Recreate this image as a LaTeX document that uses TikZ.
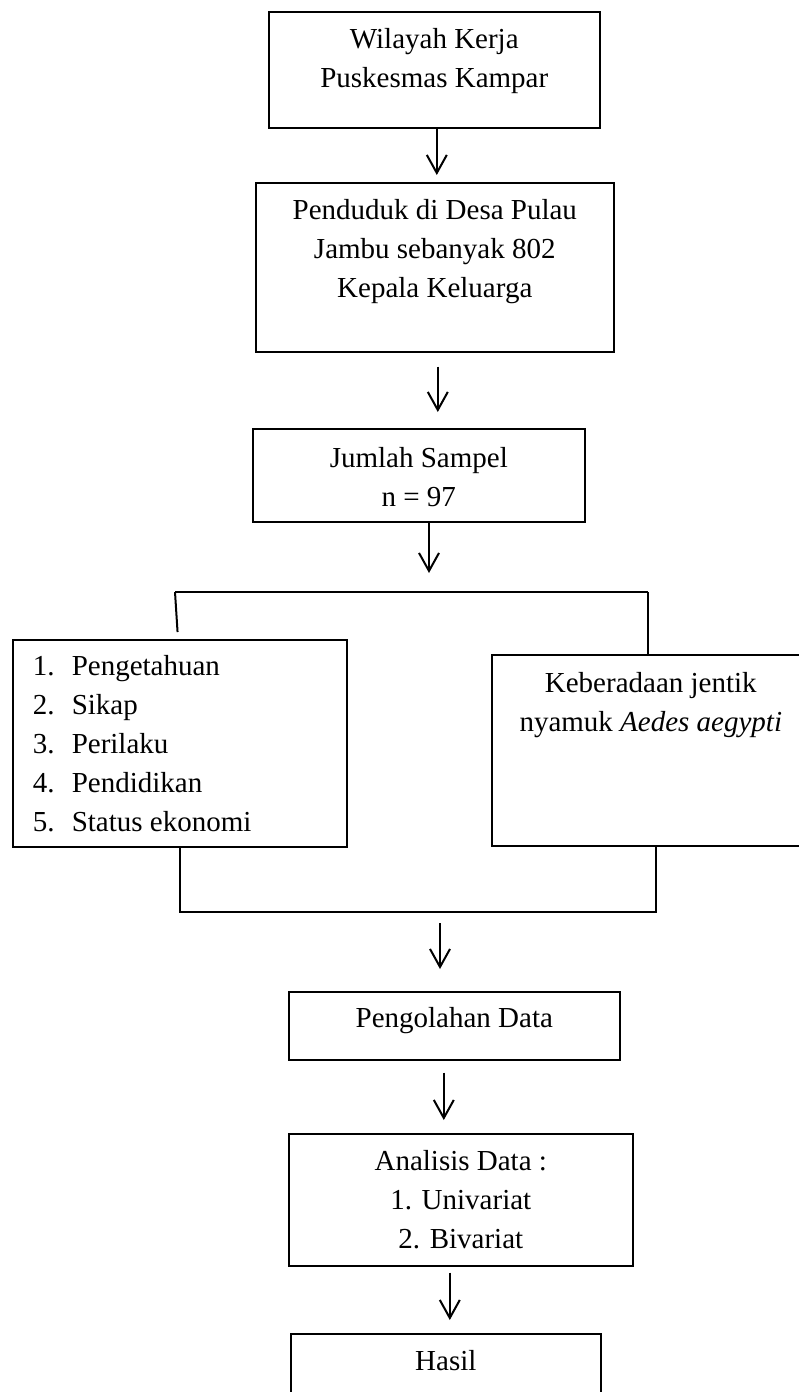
\documentclass[tikz,border=0pt]{standalone}
\usepackage{fontspec}
\setmainfont{Liberation Serif}
\usetikzlibrary{arrows.meta,positioning}
\newlength{\pxu}
\setlength{\pxu}{0.5pt}
% box text: width, height, first baseline, text
\newcommand{\boxtext}[4]{\parbox[c][#2\pxu][t]{#1\pxu}{\centering\rule{0pt}{#3\pxu}#4}}
\newcommand{\nomor}[1]{\hspace*{20\pxu}\makebox[39\pxu][l]{#1}}

\begin{document}
\begin{tikzpicture}[x=0.5pt,y=-0.5pt,
  every node/.style={font=\fontsize{14.5}{19.4}\selectfont},
  flowbox/.style={draw,line width=0.8pt,inner sep=0pt,anchor=north west},
  flowarrow/.style={-{Straight Barb[length=9pt,width=10pt]},line width=1pt},
  joinline/.style={line width=1pt}]
\useasboundingbox (0,0) rectangle (798,1392);
%
\node (wilayah) [flowbox] at (268,11) {\boxtext{331}{116}{37}{Wilayah Kerja\\Puskesmas Kampar}};
\node (penduduk) [flowbox] at (255,182) {\boxtext{358}{169}{37}{Penduduk di Desa Pulau\\Jambu sebanyak 802\\Kepala Keluarga}};
\node (sampel) [flowbox] at (252,428) {\boxtext{332}{93}{39}{Jumlah Sampel\\n = 97}};
\node (faktor) [flowbox] at (12,639) {\parbox[c][207\pxu][t]{334\pxu}{\raggedright\rule{0pt}{36\pxu}%
  \nomor{1.}Pengetahuan\\
  \nomor{2.}Sikap\\
  \nomor{3.}Perilaku\\
  \nomor{4.}Pendidikan\\
  \nomor{5.}Status ekonomi}};
\node (jentik) [flowbox] at (491,654) {\boxtext{318}{191}{38}{Keberadaan jentik\\nyamuk \textit{Aedes aegypti}}};
\node (olah) [flowbox] at (288,991) {\boxtext{331}{68}{36}{Pengolahan Data}};
\node (analisis) [flowbox] at (288,1133) {\boxtext{344}{132}{37}{Analisis Data :\\1. Univariat\\2. Bivariat}};
\node (hasil) [flowbox] at (290,1333) {\boxtext{310}{100}{37}{Hasil}};
%
\coordinate (splitL) at (175,592);
\coordinate (splitM) at (429,592);
\coordinate (splitR) at (648,592);
\coordinate (joinL) at (180,912);
\coordinate (joinM) at (440,912);
\coordinate (joinR) at (656,912);
%
\path[flowarrow,shorten >=3.5pt] ([xshift=1.25pt]wilayah.south) edge ([xshift=1.25pt]wilayah.south |- penduduk.north);
\path[flowarrow,shorten <=7pt,shorten >=8pt] ([xshift=1.5pt]penduduk.south) edge ([xshift=1.5pt]penduduk.south |- sampel.north);
\path[flowarrow,shorten >=9.5pt] (sampel.south -| splitM) edge (splitM);
\draw[joinline] (splitL) -- (splitR);
\draw[joinline,shorten >=3.5pt] (splitL) -- ([xshift=1.5pt]splitL |- faktor.north);
\draw[joinline] (splitR) -- (splitR |- jentik.north);
\draw[joinline] (faktor.south -| joinL) -- (joinL) -- (joinR) -- (jentik.south -| joinR);
\path[flowarrow,shorten <=5.5pt,shorten >=11pt] (joinM) edge (olah.north -| joinM);
\path[flowarrow,shorten <=6pt,shorten >=6.5pt] ([xshift=-5.25pt]olah.south) edge ([xshift=-5.25pt]olah.south |- analisis.north);
\path[flowarrow,shorten <=3pt,shorten >=6.5pt] ([xshift=-5.5pt]analisis.south) edge ([xshift=-5.5pt]analisis.south |- hasil.north);
\end{tikzpicture}
\end{document}
